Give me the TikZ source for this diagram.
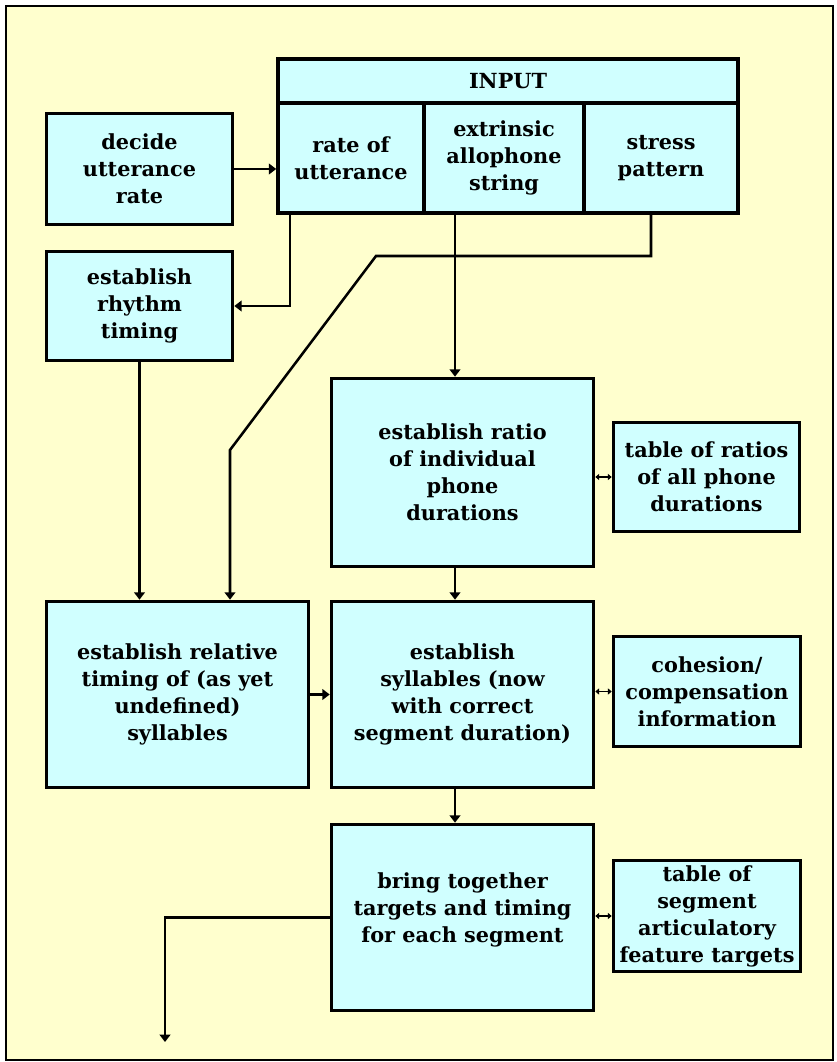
\documentclass[tikz,border=0pt]{standalone}
\usepackage{fontspec}
\setmainfont{DejaVu Serif}
\usepackage{tikz}
\usetikzlibrary{arrows.meta,positioning}
\definecolor{paper}{RGB}{255,255,206}
\definecolor{boxfill}{RGB}{208,255,255}

\begin{document}
\begin{tikzpicture}[
    x=0.75pt, y=-0.75pt,
    every node/.style={font=\fontsize{15.6}{20.25}\selectfont\bfseries, align=center},
    stage/.style 2 args={rectangle, draw=black, line width=2.7pt, fill=boxfill, inner sep=0pt,
        minimum width=#1*0.75pt, minimum height=#2*0.75pt},
    flow/.style={-{Triangle[length=5.5pt,width=8pt]}, line width=1.9pt},
    link/.style={{Triangle[length=2.8pt,width=4.5pt]}-{Triangle[length=2.8pt,width=4.5pt]}, line width=1.3pt}
  ]
  \useasboundingbox (0,0) rectangle (837,1062);
  \draw[fill=paper, line width=0.9pt] (6,6) rectangle (833,1060);

  \node[stage={186}{111}] (decide) at (139.5,169) {decide\\utterance\\rate};
  \node[stage={186}{109}] (rhythm) at (139.5,306) {establish\\rhythm\\timing};

  \node[stage={460}{44}] (input) at (508,81) {INPUT};
  \node[stage={146}{110}] (rate) at (351,158) {rate of\\utterance};
  \node[stage={160}{110}] (allophone) at (504,158) {extrinsic\\allophone\\string};
  \node[stage={154}{110}] (stress) at (661,158) {stress\\pattern};

  \node[stage={262}{188}] (ratio) at (462.5,472.5) {establish ratio\\of individual\\phone\\durations};
  \node[stage={186}{109}] (ratiotab) at (706.5,477) {table of ratios\\of all phone\\durations};

  \node[stage={262}{186}] (relative) at (177.5,694.5) {establish relative\\timing of (as yet\\undefined)\\syllables};
  \node[stage={262}{186}] (syllables) at (462.5,694.5) {establish\\syllables (now\\with correct\\segment duration)};
  \node[stage={187}{110}] (cohesion) at (707,691.5) {cohesion/\\compensation\\information};

  \node[stage={262}{186}] (bring) at (462.5,917.5) {bring together\\targets and timing\\for each segment\\[-5pt]};
  \node[stage={187}{111}] (featuretab) at (707,916) {table of\\segment\\articulatory\\feature targets};

  \coordinate (spine) at (455,0);
  \coordinate (bendA) at (376,256);
  \coordinate (bendB) at (230,450);
  \coordinate (out) at (165,1042);

  \draw[flow] (decide.east) -- (decide.east -| rate.west);
  \draw[flow] ([xshift=10.5pt]rate.south west) |- (rhythm.east);
  \draw[flow] ([xshift=-7.5pt]stress.south) |- (bendA) -- (bendB) -- (bendB |- relative.north);
  \draw[flow] (allophone.south -| spine) -- (ratio.north -| spine);
  \draw[flow] (rhythm.south) -- (rhythm.south |- relative.north);
  \draw[flow] (ratio.south -| spine) -- (syllables.north -| spine);
  \draw[flow] (relative) -- (syllables);
  \draw[flow] (syllables.south -| spine) -- (bring.north -| spine);
  \draw[flow] (bring.west) -| (out);

  \foreach \tab/\src in {ratiotab/ratio, cohesion/syllables, featuretab/bring}
    \draw[link] (\tab.west -| \src.east) -- (\tab.west);
\end{tikzpicture}
\end{document}
